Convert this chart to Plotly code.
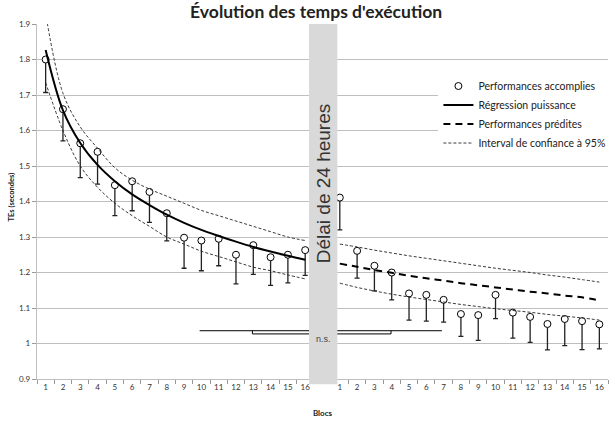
import plotly.graph_objects as go

# blocs (session 1, then session 2 after the 24h delay)
blocks = [str(i) for i in range(1, 17)]

# observed means and lower end of error bars (seconds)
obs_s1 = [1.800, 1.660, 1.564, 1.540, 1.446, 1.457, 1.427, 1.367,
          1.298, 1.290, 1.295, 1.250, 1.277, 1.243, 1.250, 1.263]
low_s1 = [1.707, 1.571, 1.467, 1.449, 1.360, 1.374, 1.341, 1.289,
          1.212, 1.205, 1.219, 1.168, 1.195, 1.164, 1.171, 1.192]
obs_s2 = [1.411, 1.261, 1.219, 1.200, 1.141, 1.137, 1.123, 1.083,
          1.080, 1.137, 1.087, 1.075, 1.055, 1.069, 1.063, 1.054]
low_s2 = [1.320, 1.184, 1.148, 1.123, 1.066, 1.063, 1.060, 1.020,
          1.009, 1.070, 1.015, 1.003, 0.982, 0.994, 0.983, 0.985]

# power regression (session 1) and predicted values (session 2)
reg_s1 = [1.827, 1.657, 1.565, 1.503, 1.457, 1.420, 1.390, 1.363,
          1.340, 1.320, 1.303, 1.287, 1.272, 1.259, 1.247, 1.236]
pred_s2 = [1.225, 1.216, 1.207, 1.199, 1.191, 1.184, 1.177, 1.170,
           1.164, 1.158, 1.152, 1.146, 1.141, 1.135, 1.130, 1.121]

# 95% confidence interval
ci_up_s1 = [1.930, 1.705, 1.610, 1.550, 1.495, 1.460, 1.435, 1.415,
            1.395, 1.375, 1.360, 1.345, 1.330, 1.315, 1.300, 1.290]
ci_lo_s1 = [1.735, 1.600, 1.500, 1.440, 1.395, 1.360, 1.330, 1.300,
            1.280, 1.260, 1.245, 1.230, 1.215, 1.205, 1.193, 1.182]
ci_up_s2 = [1.280, 1.272, 1.263, 1.255, 1.247, 1.240, 1.233, 1.226,
            1.219, 1.212, 1.206, 1.200, 1.193, 1.187, 1.180, 1.173]
ci_lo_s2 = [1.170, 1.158, 1.148, 1.139, 1.131, 1.124, 1.117, 1.110,
            1.104, 1.098, 1.093, 1.088, 1.082, 1.077, 1.072, 1.066]

y_ticks = [0.9, 1.0, 1.1, 1.2, 1.3, 1.4, 1.5, 1.6, 1.7, 1.8, 1.9]
y_ticktext = ['0.9', '1', '1.1', '1.2', '1.3', '1.4', '1.5', '1.6', '1.7', '1.8', '1.9']

# x positions: 16 blocs, one empty slot for the delay, 16 blocs
x1 = list(range(0, 16))
x2 = list(range(17, 33))
gap = 16

FONT = 'Lato'
fig = go.Figure()

fig.add_trace(go.Scatter(
    x=x1 + x2, y=obs_s1 + obs_s2, mode='markers', name='Performances accomplies',
    marker=dict(symbol='circle', size=7, color='white', line=dict(color='black', width=1)),
    error_y=dict(type='data', symmetric=False,
                 array=[0] * 32,
                 arrayminus=[o - l for o, l in zip(obs_s1 + obs_s2, low_s1 + low_s2)],
                 color='#222222', thickness=1.3, width=2.5)))

fig.add_trace(go.Scatter(
    x=x1, y=reg_s1, mode='lines', name='Régression puissance', line_shape='spline',
    line=dict(color='black', width=2)))

fig.add_trace(go.Scatter(
    x=x2, y=pred_s2, mode='lines', name='Performances prédites', line_shape='spline',
    line=dict(color='black', width=2, dash='7px,5px')))

ci_style = dict(color='#222222', width=0.9, dash='3px,2px')
fig.add_trace(go.Scatter(x=x1, y=ci_up_s1, mode='lines', name='Interval de confiance à 95%',
                         line=ci_style, line_shape='spline'))
for xs, ys in [(x1, ci_lo_s1), (x2, ci_up_s2), (x2, ci_lo_s2)]:
    fig.add_trace(go.Scatter(x=xs, y=ys, mode='lines', showlegend=False,
                             line=ci_style, line_shape='spline'))

# n.s. bracket between end of session 1 and start of session 2
br_y_top, br_y_bot = 1.036, 1.027
fig.add_shape(type='line', x0=8.9, x1=22.9, y0=br_y_top, y1=br_y_top,
              line=dict(color='black', width=1), layer='above')
fig.add_shape(type='path', path=f'M 11.95,{br_y_top} L 11.95,{br_y_bot} L 19.96,{br_y_bot} L 19.96,{br_y_top}',
              line=dict(color='black', width=1), layer='above')

# grey band for the 24h delay
fig.add_shape(type='rect', x0=15.22, x1=16.86, xref='x', y0=-0.015, y1=1, yref='paper',
              fillcolor='#d9d9d9', line_width=0, layer='above')
fig.add_annotation(x=gap + 0.04, y=1.452, text='Délai de 24 heures', textangle=-90,
                   showarrow=False, font=dict(family='Liberation Sans', size=19, color='#333333'))
fig.add_annotation(x=gap + 0.04, y=1.012, text='n.s.', showarrow=False,
                   font=dict(family='Liberation Sans', size=9, color='#444444'))

# y axis title, placed closer to the edge than the axis title allows
fig.add_annotation(xref='paper', yref='paper', x=-0.056, y=0.513, text='<b>TEs (secondes)</b>',
                   textangle=-90, showarrow=False,
                   font=dict(family=FONT, size=7.5, color='#222222'))

fig.update_layout(
    width=615, height=423,
    margin=dict(l=37, r=7, t=24, b=44, autoexpand=False),
    paper_bgcolor='white', plot_bgcolor='white',
    font=dict(family=FONT, color='#333333'),
    title=dict(text="<b>Évolution des temps d'exécution</b>", x=0.514, xanchor='center',
               y=0.971, yanchor='middle', font=dict(family=FONT, size=17.5, color='#222222')),
    legend=dict(x=0.703, y=0.745, xanchor='left', yanchor='middle', bgcolor='white',
                font=dict(family=FONT, size=10.5, color='#222222'), tracegroupgap=0,
                itemwidth=30),
    showlegend=True,
)

fig.update_xaxes(
    range=[-0.5, 32.5], tickvals=x1 + x2, ticktext=blocks + blocks,
    ticks='', showgrid=False, zeroline=False, automargin=False,
    showline=True, linecolor='#bfbfbf', linewidth=1.3,
    minor=dict(tickvals=[i + 0.5 for i in range(-1, 33)], ticks='outside', ticklen=4,
               tickcolor='#9a9a9a', showgrid=False),
    tickfont=dict(family=FONT, size=8, color='#333333'),
    title=dict(text='<b>Blocs</b>', font=dict(family=FONT, size=8, color='#222222'), standoff=19),
)
fig.update_yaxes(
    range=[0.9, 1.9], tickvals=y_ticks, ticktext=y_ticktext,
    showgrid=True, gridcolor='#bfbfbf', gridwidth=1.3, zeroline=False, automargin=False,
    showline=True, linecolor='#bfbfbf', linewidth=1.3,
    ticks='outside', ticklen=4, tickcolor='#9a9a9a',
    tickfont=dict(family=FONT, size=8, color='#333333'),
)

# the page's default body margin would shift the figure by 8px
fig.write_html('out.html', config={'displayModeBar': False},
               post_script="document.body.style.margin='0px';")
